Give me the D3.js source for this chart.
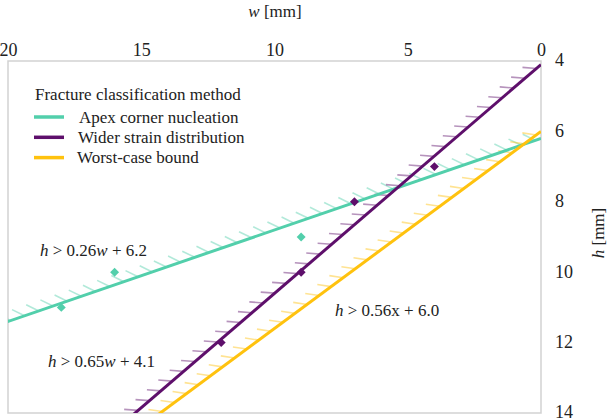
<!DOCTYPE html>
<html><head><meta charset="utf-8">
<script src="https://cdn.jsdelivr.net/npm/d3@7"></script>
<style>body{margin:0;background:#fff}svg{display:block}</style>
</head><body><svg id="c" width="608" height="420"></svg>
<script>
const wTicks = [20, 15, 10, 5, 0];
const hTicks = [4, 6, 8, 10, 12, 14];
const seriesNames = ["Apex corner nucleation", "Wider strain distribution", "Worst-case bound"];
const seriesColors = ["#52CFAB", "#5E0F6B", "#FFC20E"];
const slopes = [0.26, 0.65, 0.56];
const intercepts = [6.2, 4.1, 6.0];
const apexW = [18, 16, 9];
const apexH = [11, 10, 9];
const widerW = [4, 7, 9, 12];
const widerH = [7, 8, 10, 12];
const annoText = [["h", " > 0.26", "w", " + 6.2"], ["h", " > 0.65", "w", " + 4.1"], ["h", " > 0.56x + 6.0"]];
const annoPos = [[18.8, 9.55], [18.5, 12.7], [7.73, 11.24]]; // [w, h] of label start

const FONT = '"Liberation Serif"';
const svg = d3.select("#c");
const L = 8, R = 541, T = 61, B = 413;
const x = d3.scaleLinear().domain([20, 0]).range([L, R]);
const y = d3.scaleLinear().domain([4, 14]).range([T, B]);

svg.append("defs").append("clipPath").attr("id", "clip")
  .append("rect").attr("x", L).attr("y", T).attr("width", R - L).attr("height", B - T);

svg.append("rect").attr("x", L).attr("y", T).attr("width", R - L).attr("height", B - T)
  .attr("fill", "none").attr("stroke", "#d2d2d2").attr("stroke-width", 1.5);

const plot = svg.append("g").attr("clip-path", "url(#clip)");

slopes.forEach((m, i) => {
  const w0 = 0, w1 = 22;
  const p0 = [x(w0), y(m * w0 + intercepts[i])];
  const p1 = [x(w1), y(m * w1 + intercepts[i])];
  const len = Math.hypot(p1[0] - p0[0], p1[1] - p0[1]);
  const d = [(p1[0] - p0[0]) / len, (p1[1] - p0[1]) / len];
  const c = Math.SQRT1_2;
  const t = [c * d[0] - c * d[1], c * d[0] + c * d[1]];
  const spacing = 15, tl = 14;
  const ticks = d3.range(spacing * 0.4, len, spacing);
  plot.append("g").selectAll("line").data(ticks).join("line")
    .attr("x1", s => p0[0] + d[0] * s).attr("y1", s => p0[1] + d[1] * s)
    .attr("x2", s => p0[0] + d[0] * s + t[0] * tl).attr("y2", s => p0[1] + d[1] * s + t[1] * tl)
    .attr("stroke", seriesColors[i]).attr("stroke-opacity", 0.45).attr("stroke-width", 1.6);
});
slopes.forEach((m, i) => {
  plot.append("line")
    .attr("x1", x(0)).attr("y1", y(intercepts[i]))
    .attr("x2", x(22)).attr("y2", y(m * 22 + intercepts[i]))
    .attr("stroke", seriesColors[i]).attr("stroke-width", 3);
});

const diamond = d3.symbol().type(d3.symbolSquare).size(40);
plot.append("g").selectAll("path").data(apexW.map((w, k) => [w, apexH[k]])).join("path")
  .attr("d", diamond).attr("transform", d => `translate(${x(d[0])},${y(d[1])}) rotate(45)`)
  .attr("fill", seriesColors[0]);
plot.append("g").selectAll("path").data(widerW.map((w, k) => [w, widerH[k]])).join("path")
  .attr("d", diamond).attr("transform", d => `translate(${x(d[0])},${y(d[1])}) rotate(45)`)
  .attr("fill", seriesColors[1]);

const gx = svg.append("g").attr("transform", `translate(0,${T})`)
  .call(d3.axisTop(x).tickValues(wTicks).tickSize(0).tickPadding(5));
gx.select(".domain").remove();
gx.selectAll("text").style("font-family", FONT).style("font-size", "18px").attr("fill", "#222");
const gy = svg.append("g").attr("transform", `translate(${R},0)`)
  .call(d3.axisRight(y).tickValues(hTicks).tickSize(0).tickPadding(14));
gy.select(".domain").remove();
gy.selectAll("text").style("font-family", FONT).style("font-size", "18px").attr("fill", "#222").attr("dy", "0.27em");

const xt = svg.append("text").attr("x", 275).attr("y", 17).attr("text-anchor", "middle");
xt.append("tspan").style("font-style", "italic").text("w");
xt.append("tspan").text(" [mm]");
const yt = svg.append("text").attr("transform", "translate(604,233) rotate(-90)").attr("text-anchor", "middle");
yt.append("tspan").style("font-style", "italic").text("h");
yt.append("tspan").text(" [mm]");
[xt, yt].forEach(t => t.style("font-family", FONT).style("font-size", "17px").attr("fill", "#222"));

svg.append("text").attr("x", 35).attr("y", 100).style("font-family", FONT).style("font-size", "17px")
  .attr("fill", "#222").text("Fracture classification method");
seriesNames.forEach((n, i) => {
  const yy = 117 + i * 20.3;
  svg.append("line").attr("x1", 34).attr("x2", 64).attr("y1", yy).attr("y2", yy)
    .attr("stroke", seriesColors[i]).attr("stroke-width", 3.5);
  svg.append("text").attr("x", 79 - i).attr("y", yy + 5.5).style("font-family", FONT).style("font-size", "17px")
    .attr("fill", "#222").text(n);
});

annoText.forEach((parts, i) => {
  const tx = svg.append("text").attr("x", x(annoPos[i][0])).attr("y", y(annoPos[i][1]))
    .style("font-family", FONT).style("font-size", "17px").attr("fill", "#222");
  parts.forEach((p, k) => {
    tx.append("tspan").style("font-style", k % 2 === 0 ? "italic" : "normal").text(p);
  });
});
</script></body></html>
